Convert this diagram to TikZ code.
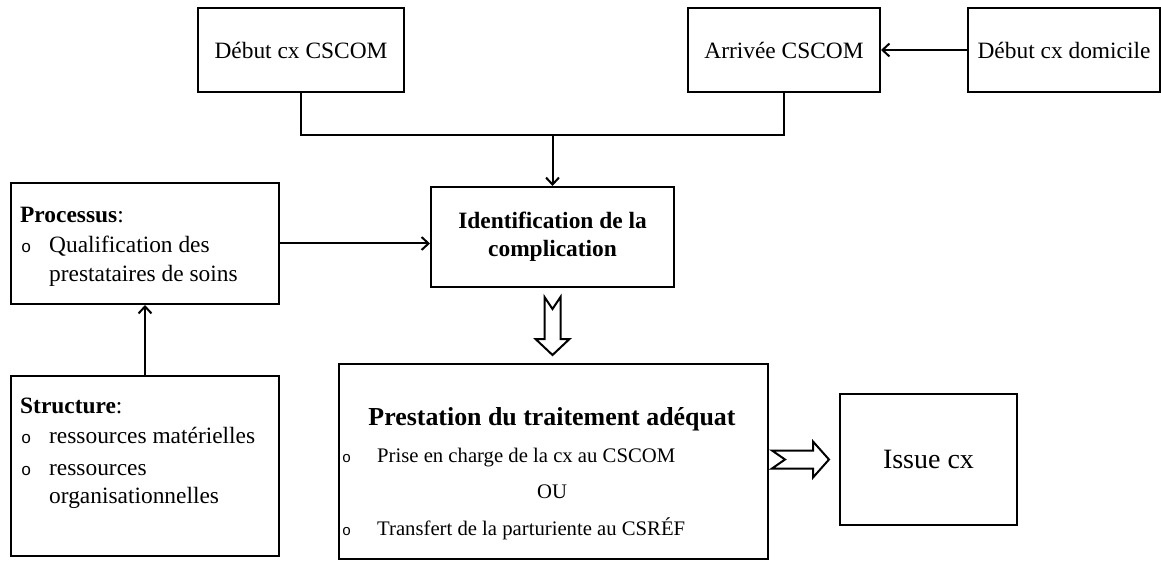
\documentclass[tikz,border=0pt]{standalone}
\usepackage{fontspec}
\setmainfont{Liberation Serif}
\newfontfamily\bulletfont{Liberation Mono}
\usetikzlibrary{arrows.meta}
\begin{document}
\begin{tikzpicture}[x=1pt,y=-1pt,
  box/.style={draw, line width=2pt, inner sep=0pt, anchor=north west, align=center},
  tf/.style={font=\fontsize{23.4}{28}\selectfont},
  lbl/.style={font=\fontsize{23.4}{28}\selectfont, inner sep=0pt, anchor=base west},
  sml/.style={font=\fontsize{20.7}{24}\selectfont, inner sep=0pt, anchor=base west},
  bul/.style={font=\bulletfont\fontsize{17}{20}\selectfont, inner sep=0pt, anchor=base west},
  arr/.style={-{Straight Barb[length=7pt,width=13pt,line width=2pt]}, line width=2pt},
  hollow/.style={draw, line width=2pt, fill=white, line join=miter}]
\useasboundingbox (0,0) rectangle (1161,561);

% top row
\node[box, tf, minimum width=206pt, minimum height=84pt] (b1) at (197,7) {Début cx CSCOM};
\node[box, tf, minimum width=192pt, minimum height=84pt] (b2) at (687,7) {Arrivée CSCOM};
\node[box, tf, minimum width=192pt, minimum height=84pt] (b3) at (967,7) {Début cx domicile};

% centre
\node[box, font=\bfseries\fontsize{23.4}{28}\selectfont, minimum width=243pt, minimum height=100pt] (id) at (430,186) {Identification de la\\complication};
\node[box, minimum width=429pt, minimum height=195pt] (pres) at (338,363) {};
\node[box, font=\fontsize{28}{32}\selectfont, minimum width=177pt, minimum height=131pt] (iss) at (839,393) {Issue cx};

% left
\node[box, minimum width=268pt, minimum height=121pt] (proc) at (10,182) {};
\node[box, minimum width=268pt, minimum height=180pt] (str) at (10,375) {};

% texts of the left boxes
\node[lbl] (t1) at (20,223) {\textbf{Processus}:};
\node[bul] (o1) at (21,253) {o};
\node[lbl] (t2) at (49,253) {Qualification des};
\node[lbl] (t3) at (49,281) {prestataires de soins};

\node[lbl] (s1) at (20,413) {\textbf{Structure}:};
\node[bul] (o2) at (21,443) {o};
\node[lbl] (s2) at (49,443) {ressources matérielles};
\node[bul] (o3) at (21,475) {o};
\node[lbl] (s3) at (49,475) {ressources};
\node[lbl] (s4) at (49,503) {organisationnelles};

% texts of the treatment box
\node[font=\bfseries\fontsize{25.9}{30}\selectfont, inner sep=0pt, anchor=base] (p0) at (552,425) {Prestation du traitement adéquat};
\node[bul, font=\bulletfont\fontsize{15}{18}\selectfont] (o4) at (342,462) {o};
\node[sml] (p1) at (377,462) {Prise en charge de la cx au CSCOM};
\node[font=\fontsize{20.7}{24}\selectfont, inner sep=0pt, anchor=base] (p2) at (552,498) {OU};
\node[bul, font=\bulletfont\fontsize{15}{18}\selectfont] (o5) at (342,535) {o};
\node[sml] (p3) at (377,535) {Transfert de la parturiente au CSRÉF};

% connectors
\coordinate (j) at (id.north|-0,135);
\draw[line width=2pt] (b1.south) |- (j) -| (b2.south);
\draw[arr] (j) -- (id.north);
\draw[arr] (b3.west) -- (b2.east);
\draw[arr] (proc.east) -- (proc.east-|id.west);
\draw[arr] (str.north) -- (proc.south);

% hollow arrows
\begin{scope}[shift={(id.south)}]
  \draw[hollow] (-8,9) -- (0,21) -- (8,9) -- (8,51) -- (17,51) -- (0,67) -- (-17,51) -- (-8,51) -- cycle;
\end{scope}
\begin{scope}[shift={(pres.east|-iss.west)}]
  \draw[hollow] (3,-9) -- (44,-9) -- (44,-18) -- (60,0) -- (44,18) -- (44,9) -- (3,9) -- (16,0) -- cycle;
\end{scope}
\end{tikzpicture}
\end{document}
